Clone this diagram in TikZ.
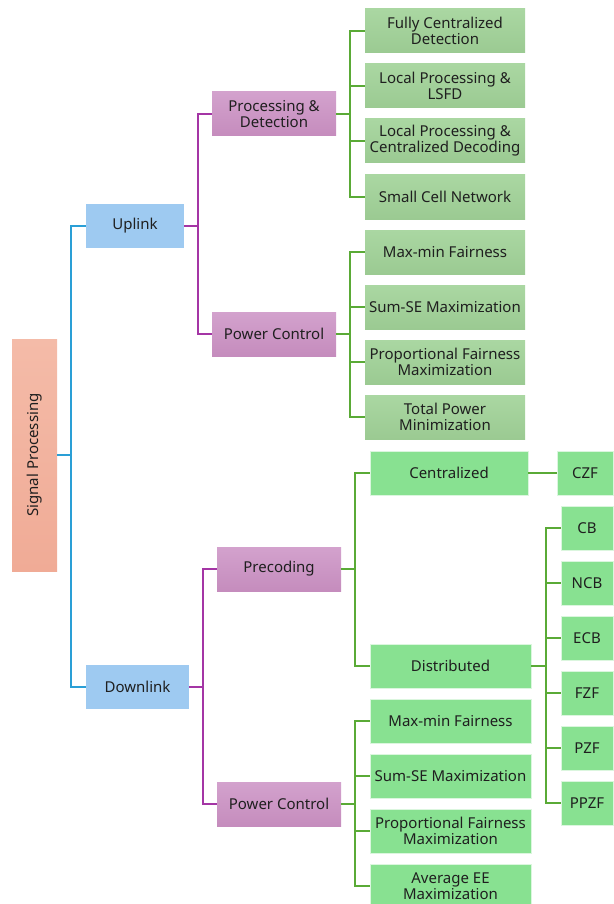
\documentclass[tikz,border=0pt]{standalone}
\usepackage{fontspec}
\setmainfont{Noto Sans}
\definecolor{rootT}{HTML}{F4BBA8}
\definecolor{rootB}{HTML}{F0AB96}
\definecolor{blueF}{HTML}{9ECAF1}
\definecolor{purT}{HTML}{D3A2CD}
\definecolor{purB}{HTML}{C58CBD}
\definecolor{ugT}{HTML}{AAD7A2}
\definecolor{ugB}{HTML}{9BCA92}
\definecolor{dgF}{HTML}{88E191}
\definecolor{lblue}{HTML}{2A9FD6}
\definecolor{lpur}{HTML}{A435A5}
\definecolor{lgrn}{HTML}{5AAA36}
\begin{document}
\begin{tikzpicture}[x=1pt,y=-1pt,
  base/.style={inner sep=0pt, align=center, font=\fontsize{15}{16}\selectfont, text=black!88, minimum height=44pt},
  rootbox/.style={base, top color=rootT, bottom color=rootB, minimum width=45pt, minimum height=232pt},
  bluebox/.style={base, fill=blueF},
  purbox/.style={base, top color=purT, bottom color=purB, minimum width=124pt},
  upgbox/.style={base, top color=ugT, bottom color=ugB, minimum width=160pt},
  dngbox/.style={base, fill=dgF, draw=white!70!dgF, line width=0.8pt},
  conn/.style={line width=2pt},
  el/.style={conn, to path={-- ++(14,0) |- (\tikztotarget)}}
]
\useasboundingbox (0,0) rectangle (613,904);
% root
\node[rootbox] (sp) at (34.5,455) {\rotatebox{90}{Signal Processing}};
% level 1
\node[bluebox, minimum width=98pt] (ul) at (135,226) {Uplink};
\node[bluebox, minimum width=103pt] (dl) at (137.5,687) {Downlink};
% level 2
\node[purbox] (pd) at (274,114) {Processing \&\\Detection};
\node[purbox] (upc) at (274,334) {Power Control};
\node[purbox] (pre) at (279,569) {Precoding};
\node[purbox] (dpc) at (279,804) {Power Control};
% uplink leaves
\node[upgbox] (fcd) at (445,31) {Fully Centralized\\Detection};
\node[upgbox] (lsfd) at (445,86) {Local Processing \&\\LSFD};
\node[upgbox] (lcd) at (445,141) {Local Processing \&\\Centralized Decoding};
\node[upgbox] (scn) at (445,197) {Small Cell Network};
\node[upgbox] (umm) at (445,252) {Max-min Fairness};
\node[upgbox] (use) at (445,307) {Sum-SE Maximization};
\node[upgbox] (upf) at (445,362) {Proportional Fairness\\Maximization};
\node[upgbox] (utp) at (445,417) {Total Power\\Minimization};
% downlink
\node[dngbox, minimum width=158pt] (cen) at (449,473) {Centralized};
\node[dngbox, minimum width=161pt] (dis) at (450.5,666) {Distributed};
\node[dngbox, minimum width=56pt] (czf) at (585,473) {CZF};
\node[dngbox, minimum width=52pt] (cb) at (587,528) {CB};
\node[dngbox, minimum width=52pt] (ncb) at (587,583) {NCB};
\node[dngbox, minimum width=52pt] (ecb) at (587,638) {ECB};
\node[dngbox, minimum width=52pt] (fzf) at (587,693) {FZF};
\node[dngbox, minimum width=52pt] (pzf) at (587,748) {PZF};
\node[dngbox, minimum width=52pt] (ppzf) at (587,803) {PPZF};
\node[dngbox, minimum width=161pt] (dmm) at (450.5,721) {Max-min Fairness};
\node[dngbox, minimum width=161pt] (dse) at (450.5,776) {Sum-SE Maximization};
\node[dngbox, minimum width=161pt] (dpf) at (450.5,831) {Proportional Fairness\\Maximization};
\node[dngbox, minimum width=161pt] (dee) at (450.5,886) {Average EE\\Maximization};
% connectors
\foreach \c in {ul,dl} \draw[el, lblue] (sp.east) to (\c.west);
\foreach \c in {pd,upc} \draw[el, lpur] (ul.east) to (\c.west);
\foreach \c in {pre,dpc} \draw[el, lpur] (dl.east) to (\c.west);
\foreach \c in {fcd,lsfd,lcd,scn} \draw[el, lgrn] (pd.east) to (\c.west);
\foreach \c in {umm,use,upf,utp} \draw[el, lgrn] (upc.east) to (\c.west);
\foreach \c in {cen,dis} \draw[el, lgrn] (pre.east) to (\c.west);
\foreach \c in {dmm,dse,dpf,dee} \draw[el, lgrn] (dpc.east) to (\c.west);
\foreach \c in {cb,ncb,ecb,fzf,pzf,ppzf} \draw[conn, lgrn] (dis.east) -- ++(15,0) |- (\c.west);
\draw[conn, lgrn] (cen.east) -- (czf.west);
\end{tikzpicture}
\end{document}
